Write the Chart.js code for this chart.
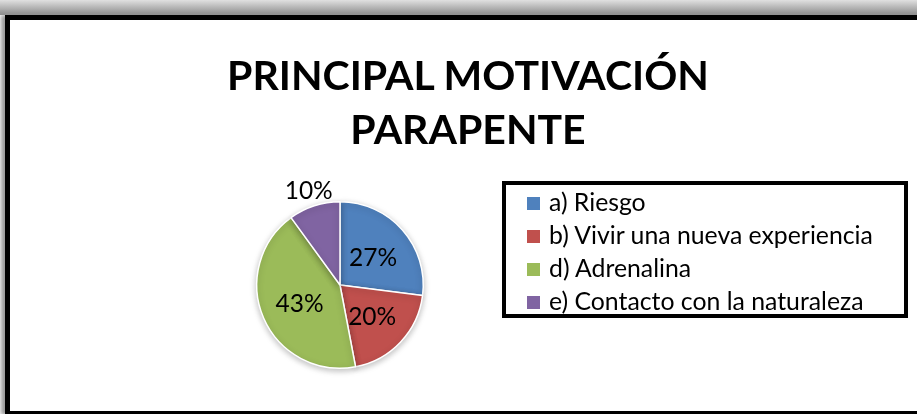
<!DOCTYPE html>
<html>
<head>
<meta charset="utf-8">
<script src="https://cdn.jsdelivr.net/npm/chart.js@4.4.1/dist/chart.umd.min.js"></script>
<style>
  html, body { margin: 0; padding: 0; background: #fff; }
  body { width: 917px; height: 414px; position: relative; overflow: hidden; font-family: Lato, "Open Sans", sans-serif; }
  #topbar { position: absolute; left: 0; top: 0; width: 917px; height: 15px; background: linear-gradient(#e0e0e0, #8a8a8a); }
  #frame { position: absolute; left: 5px; top: 15px; width: 940px; height: 391px; border-left: 5px solid #000; border-top: 5px solid #000; border-bottom: 4px solid #000; box-shadow: -4px 0 4px #999; background: #fff; }
  #title { position: absolute; left: 0; width: 936px; top: 48px; text-align: center; font-weight: bold; font-size: 41px; line-height: 54px; color: #000; }
  #chart { position: absolute; left: 0; top: 0; }
  #legend { position: absolute; left: 502px; top: 181px; width: 406px; height: 137px; border: 4px solid #000; box-sizing: border-box; padding: 0 0 0 21px; }
  .item { height: 33px; line-height: 33px; font-size: 24.8px; color: #000; white-space: nowrap; }
  .sw { display: inline-block; width: 13px; height: 13px; margin-right: 9px; vertical-align: 1px; }
</style>
</head>
<body>
<div id="topbar"></div>
<div id="frame"></div>
<canvas id="chart" width="917" height="414"></canvas>
<div id="title">PRINCIPAL MOTIVACIÓN<br>PARAPENTE</div>
<div id="legend"></div>
<script>
const categories = ['a) Riesgo', 'b) Vivir una nueva experiencia', 'd) Adrenalina', 'e) Contacto con la naturaleza'];
const percentages = [27, 20, 43, 10];
const sliceColors = ['#4F81BD', '#C0504D', '#9BBB59', '#8064A2'];

// legend box
const legend = document.getElementById('legend');
categories.forEach((name, i) => {
  const row = document.createElement('div');
  row.className = 'item';
  row.innerHTML = '<span class="sw" style="background:' + sliceColors[i] + '"></span>' + name;
  legend.appendChild(row);
});

// soft shadow under the pie
const pieShadow = {
  id: 'pieShadow',
  beforeDatasetsDraw(chart) {
    const ctx = chart.ctx;
    ctx.save();
    ctx.shadowColor = 'rgba(0,0,0,0.25)';
    ctx.shadowBlur = 6;
    ctx.shadowOffsetY = 2;
  },
  afterDatasetsDraw(chart) {
    chart.ctx.restore();
  }
};

// percent labels drawn at each arc
const pctLabels = {
  id: 'pctLabels',
  afterDatasetsDraw(chart) {
    const ctx = chart.ctx;
    const meta = chart.getDatasetMeta(0);
    ctx.save();
    ctx.font = '24.5px Lato, "Open Sans", sans-serif';
    ctx.fillStyle = '#000';
    ctx.textAlign = 'center';
    ctx.textBaseline = 'middle';
    meta.data.forEach((arc, i) => {
      const mid = (arc.startAngle + arc.endAngle) / 2;
      const r = percentages[i] < 15 ? arc.outerRadius + 18 : arc.outerRadius * 0.53;
      const x = arc.x + Math.cos(mid) * r;
      const y = arc.y + Math.sin(mid) * r + 2;
      ctx.fillText(percentages[i] + '%', x, y);
    });
    ctx.restore();
  }
};

new Chart(document.getElementById('chart'), {
  type: 'pie',
  data: {
    labels: categories,
    datasets: [{
      data: percentages,
      backgroundColor: sliceColors,
      borderColor: '#fff',
      borderWidth: 1.5
    }]
  },
  options: {
    responsive: false,
    animation: false,
    layout: { padding: { left: 256, right: 493, top: 201, bottom: 45 } },
    plugins: {
      legend: { display: false },
      title: { display: false },
      tooltip: { enabled: false }
    }
  },
  plugins: [pieShadow, pctLabels]
});
</script>
</body>
</html>
